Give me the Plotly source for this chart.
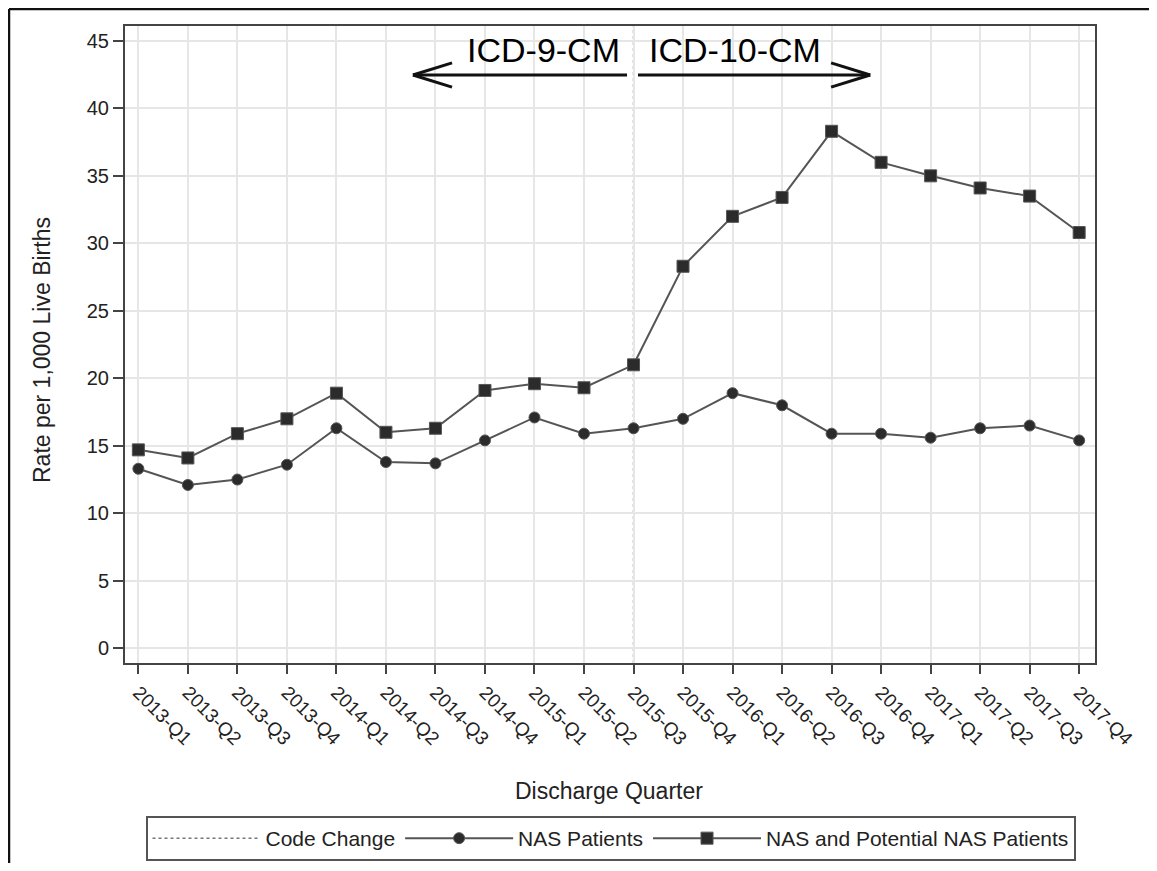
import plotly.graph_objects as go

quarters = ["2013-Q1", "2013-Q2", "2013-Q3", "2013-Q4",
            "2014-Q1", "2014-Q2", "2014-Q3", "2014-Q4",
            "2015-Q1", "2015-Q2", "2015-Q3", "2015-Q4",
            "2016-Q1", "2016-Q2", "2016-Q3", "2016-Q4",
            "2017-Q1", "2017-Q2", "2017-Q3", "2017-Q4"]
nas_patients = [13.3, 12.1, 12.5, 13.6, 16.3, 13.8, 13.7, 15.4, 17.1, 15.9,
                16.3, 17.0, 18.9, 18.0, 15.9, 15.9, 15.6, 16.3, 16.5, 15.4]
nas_potential = [14.7, 14.1, 15.9, 17.0, 18.9, 16.0, 16.3, 19.1, 19.6, 19.3,
                 21.0, 28.3, 32.0, 33.4, 38.3, 36.0, 35.0, 34.1, 33.5, 30.8]
code_change_quarter = "2015-Q3"
y_ticks = [0, 5, 10, 15, 20, 25, 30, 35, 40, 45]

FONT = "Liberation Sans, Arial, sans-serif"
# page body has an 8px margin; the figure is sized so that the page matches 1157x871
W, H = 1149, 855
ML, MR, MT, MB = 117, 62, 18, 200
PW, PH = W - ML - MR, H - MT - MB  # 970 x 637


def px(x_ref):  # reference-page pixel -> paper x
    return (x_ref - 8 - ML) / PW


def py(y_ref):  # reference-page pixel -> paper y
    return (H - MB - (y_ref - 8)) / PH


fig = go.Figure()

fig.add_trace(go.Scatter(
    x=[None], y=[None], mode="lines", name="Code Change",
    line=dict(color="#777777", width=1.5, dash="dot")))
fig.add_trace(go.Scatter(
    x=quarters, y=nas_patients, mode="lines+markers", name="NAS Patients",
    line=dict(color="#555555", width=2),
    marker=dict(symbol="circle", size=11, color="#2b2b2b",
                line=dict(color="#555555", width=1))))
fig.add_trace(go.Scatter(
    x=quarters, y=nas_potential, mode="lines+markers",
    name="NAS and Potential NAS Patients",
    line=dict(color="#555555", width=2),
    marker=dict(symbol="square", size=12, color="#2b2b2b",
                line=dict(color="#555555", width=1))))

cc = quarters.index(code_change_quarter)
fig.add_shape(type="line", xref="x", yref="paper", x0=cc, x1=cc, y0=0, y1=1,
              line=dict(color="#888888", width=1.5, dash="dot"), layer="below")

# ICD labels
fig.add_annotation(x=cc - 1.82, y=44.3, xref="x", yref="y", text="ICD-9-CM",
                   showarrow=False, font=dict(family=FONT, size=34, color="#000000"))
fig.add_annotation(x=cc + 2.05, y=44.3, xref="x", yref="y", text="ICD-10-CM",
                   showarrow=False, font=dict(family=FONT, size=34, color="#000000"))

# arrows (shaft + open chevron heads)
ay = 42.47
arm_dx, arm_dy = 0.79, 0.9
arrow_line = dict(color="#111111", width=3)
left_tip, left_tail = cc - 4.455, cc - 0.131
right_tail, right_tip = cc + 0.09, cc + 4.78
for x0, x1 in [(left_tip, left_tail), (right_tail, right_tip)]:
    fig.add_shape(type="line", xref="x", yref="y", x0=x0, x1=x1, y0=ay, y1=ay,
                  line=arrow_line)
for tip, d in [(left_tip, 1), (right_tip, -1)]:
    for s in (1, -1):
        fig.add_shape(type="line", xref="x", yref="y", x0=tip, y0=ay,
                      x1=tip + d * arm_dx, y1=ay + s * arm_dy, line=arrow_line)

# axis titles
fig.add_annotation(x=px(42), y=py(350), xref="paper", yref="paper",
                   xanchor="center", yanchor="middle",
                   text="Rate per 1,000 Live Births", textangle=-90, showarrow=False,
                   font=dict(family=FONT, size=23, color="#222222"))
fig.add_annotation(x=px(609), y=py(791), xref="paper", yref="paper",
                   xanchor="center", yanchor="middle",
                   text="Discharge Quarter", showarrow=False,
                   font=dict(family=FONT, size=23, color="#222222"))

# outer border (top and left edges visible)
fig.add_shape(type="line", xref="paper", yref="paper",
              x0=px(9), x1=px(1160), y0=py(9), y1=py(9),
              line=dict(color="#111111", width=2.5))
fig.add_shape(type="line", xref="paper", yref="paper",
              x0=px(9), x1=px(9), y0=py(9), y1=py(880),
              line=dict(color="#111111", width=2.5))

fig.update_xaxes(
    type="category", range=[-0.27, 19.32], automargin=False,
    showgrid=True, gridcolor="#e6e6e6", gridwidth=2,
    showline=True, linecolor="#444444", linewidth=2, mirror=True,
    ticks="outside", ticklen=9, tickcolor="#444444", tickwidth=1.5,
    tickangle=45, tickfont=dict(family=FONT, size=19, color="#222222"),
    zeroline=False)
fig.update_yaxes(
    range=[-1.09, 46.1], tickvals=y_ticks, automargin=False,
    showgrid=True, gridcolor="#e6e6e6", gridwidth=2,
    showline=True, linecolor="#444444", linewidth=2, mirror=True,
    ticks="outside", ticklen=10, tickcolor="#444444", tickwidth=1.5,
    tickfont=dict(family=FONT, size=20, color="#222222"),
    zeroline=False)

fig.update_layout(
    width=W, height=H,
    margin=dict(l=ML, r=MR, t=MT, b=MB, autoexpand=False),
    paper_bgcolor="white", plot_bgcolor="white",
    font=dict(family=FONT, color="#222222"),
    showlegend=True,
    legend=dict(orientation="h", x=px(610.5), xanchor="center",
                y=py(838.5), yanchor="middle",
                bordercolor="#555555", borderwidth=2, bgcolor="white",
                font=dict(family=FONT, size=21, color="#222222"),
                itemwidth=108),
)

fig.write_html("out.html")
